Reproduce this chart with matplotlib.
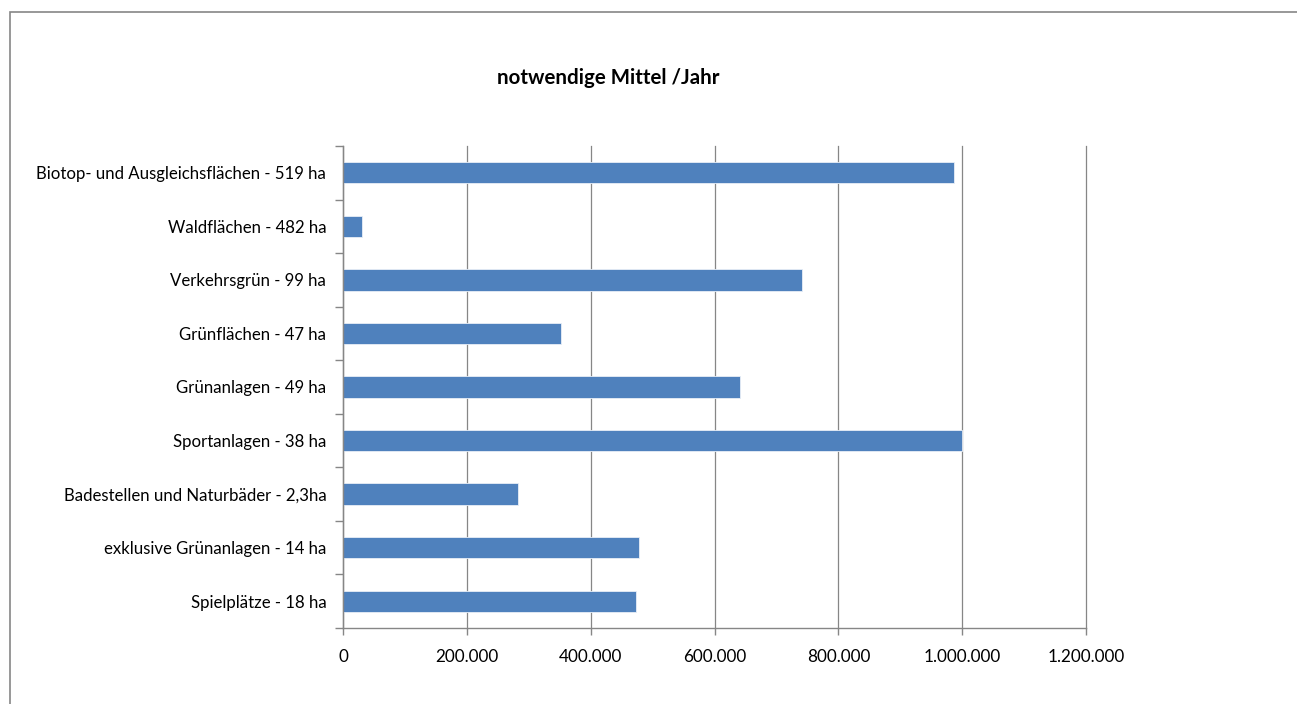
import matplotlib
matplotlib.use("Agg")
import matplotlib.pyplot as plt
from matplotlib.patches import Rectangle
from matplotlib.ticker import FuncFormatter, FixedLocator

plt.rcParams["font.family"] = ["Lato", "DejaVu Sans"]

categories = [
    "Biotop- und Ausgleichsflächen - 519 ha",
    "Waldflächen - 482 ha",
    "Verkehrsgrün - 99 ha",
    "Grünflächen - 47 ha",
    "Grünanlagen - 49 ha",
    "Sportanlagen - 38 ha",
    "Badestellen und Naturbäder - 2,3ha",
    "exklusive Grünanlagen - 14 ha",
    "Spielplätze - 18 ha",
]
values = [987000, 31000, 741000, 352000, 641000, 1000000, 283000, 478000, 473000]
x_ticks = [0, 200000, 400000, 600000, 800000, 1000000, 1200000]
title = "notwendige Mittel /Jahr"

W, H = 1297, 704
fig = plt.figure(figsize=(W / 100, H / 100), dpi=100)

# chart-area frame (right and bottom edges fall outside the picture)
fig.patches.append(Rectangle((10 / W, -0.05), 1.1, 1 - 12 / H + 0.05,
                             transform=fig.transFigure, fill=False,
                             edgecolor="#868686", linewidth=1.2))

ax = fig.add_axes([343 / W, 1 - 628 / H, (1086 - 343) / W, (628 - 146) / H])

grey = "#868686"
ypos = list(range(len(categories)))
ax.barh(ypos, values, height=0.4, color="#4F81BD", edgecolor="#E8EEF7",
        linewidth=0.6, zorder=3)

ax.set_xlim(0, 1200000)
ax.set_ylim(len(categories) - 0.5, -0.5)
ax.set_xticks(x_ticks)
ax.xaxis.set_major_formatter(FuncFormatter(lambda v, p: f"{int(v):,}".replace(",", ".")))
ax.grid(axis="x", color=grey, linewidth=0.9, zorder=0)
for gl in ax.get_xgridlines():
    gl.set_clip_on(False)

ax.set_yticks(ypos)
ax.set_yticklabels(categories)
ax.yaxis.set_minor_locator(FixedLocator([i - 0.5 for i in range(len(categories) + 1)]))
ax.tick_params(axis="y", which="major", length=0, pad=12, labelsize=12.1, colors="black")
ax.tick_params(axis="y", which="minor", length=6, width=1, color=grey)
ax.tick_params(axis="x", which="major", length=5, width=1, color=grey, pad=10,
               labelsize=12.3, labelcolor="black")

for s in ("top", "right"):
    ax.spines[s].set_visible(False)
for s in ("left", "bottom"):
    ax.spines[s].set_color(grey)
    ax.spines[s].set_linewidth(1.0)
ax.spines["left"].set_zorder(4)

fig.text(608 / W, 1 - 78 / H, title, ha="center", va="center",
         fontsize=14.8, fontweight="bold")

fig.savefig("out.png", dpi=100)
